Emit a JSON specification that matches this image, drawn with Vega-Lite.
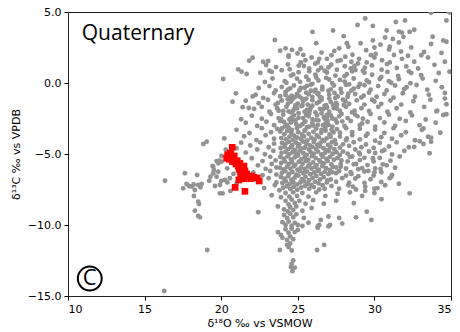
{
"$schema":"https://vega.github.io/schema/vega-lite/v6.json",
"width":383,"height":284,
"autosize":{"type":"none"},
"padding":{"left":68,"top":12,"right":9,"bottom":36},
"config":{"view":{"stroke":"#222","strokeWidth":1},
"axis":{"grid":false,"domain":false,"tickColor":"#000","tickSize":4,"labelFont":"DejaVu Sans","labelFontSize":11,"labelColor":"#000","titleFont":"DejaVu Sans","titleFontSize":11,"titleFontWeight":"normal","titleColor":"#000","labelPadding":3}},
"datasets":{
"gray":[
{"x":29.4,"y":4.55},{"x":33.7,"y":4.95},{"x":34.9,"y":4.98},
{"x":28.9,"y":4.08},{"x":29.9,"y":4.02},{"x":31.4,"y":4.3},{"x":32.0,"y":4.4},{"x":34.7,"y":4.4},
{"x":25.96,"y":3.6},{"x":27.3,"y":3.7},{"x":30.8,"y":3.7},{"x":31.6,"y":3.62},{"x":31.8,"y":3.55},{"x":32.3,"y":3.6},{"x":32.6,"y":3.75},
{"x":23.5,"y":3.03},{"x":28.0,"y":3.3},{"x":29.9,"y":3.0},{"x":30.7,"y":3.2},{"x":31.2,"y":3.1},{"x":33.8,"y":3.26},{"x":34.5,"y":3.0},{"x":31.9,"y":3.25},
{"x":26.2,"y":2.8},{"x":28.2,"y":2.8},{"x":28.3,"y":2.55},{"x":29.1,"y":2.8},{"x":27.7,"y":2.44},{"x":30.4,"y":2.7},{"x":31.0,"y":2.55},{"x":31.6,"y":2.85},{"x":32.4,"y":2.5},{"x":33.7,"y":2.75},{"x":34.7,"y":2.9},{"x":24.2,"y":2.44},{"x":30.0,"y":2.5},
{"x":23.85,"y":2.27},{"x":24.62,"y":2.33},{"x":24.98,"y":2.08},{"x":25.17,"y":2.38},{"x":25.36,"y":1.98},{"x":24.41,"y":1.94},{"x":26.55,"y":2.14},{"x":27.38,"y":2.26},{"x":28.57,"y":1.99},{"x":29.46,"y":2.31},{"x":30.08,"y":2.05},{"x":30.96,"y":2.36},{"x":31.28,"y":1.97},{"x":31.74,"y":2.22},{"x":32.19,"y":1.92},{"x":33.24,"y":2.18},{"x":33.06,"y":1.95},{"x":34.38,"y":2.12},{"x":29.77,"y":1.96},
{"x":22.05,"y":1.78},{"x":21.83,"y":1.57},{"x":22.74,"y":1.5},{"x":23.07,"y":1.55},{"x":24.4,"y":1.85},{"x":25.5,"y":1.6},{"x":25.9,"y":1.8},{"x":26.3,"y":1.45},{"x":26.9,"y":1.7},{"x":27.6,"y":1.55},{"x":28.1,"y":1.85},{"x":28.5,"y":1.5},{"x":29.0,"y":1.7},{"x":29.5,"y":1.45},{"x":30.0,"y":1.8},{"x":30.5,"y":1.6},{"x":31.0,"y":1.45},{"x":31.8,"y":1.7},{"x":32.6,"y":1.5},{"x":33.5,"y":1.8},{"x":34.6,"y":1.5},{"x":27.2,"y":1.95},{"x":25.2,"y":1.45},
{"x":22.93,"y":1.27},{"x":23.58,"y":1.12},{"x":24.36,"y":1.31},{"x":24.47,"y":0.97},{"x":25.06,"y":1.22},{"x":25.74,"y":1.02},{"x":26.14,"y":1.36},{"x":26.52,"y":1.08},{"x":27.18,"y":1.29},{"x":27.55,"y":0.93},{"x":28.07,"y":1.18},{"x":28.46,"y":1.03},{"x":28.93,"y":1.37},{"x":29.38,"y":1.07},{"x":29.84,"y":1.24},{"x":30.47,"y":0.94},{"x":30.82,"y":1.33},{"x":31.46,"y":1.06},{"x":32.08,"y":1.17},{"x":32.85,"y":1.02},{"x":33.92,"y":1.28},{"x":21.11,"y":0.96},{"x":28.76,"y":0.91},{"x":26.33,"y":0.89},
{"x":21.33,"y":0.8},{"x":21.66,"y":0.63},{"x":22.55,"y":0.72},{"x":23.15,"y":0.86},{"x":23.3,"y":0.78},{"x":23.95,"y":0.9},{"x":24.55,"y":0.52},{"x":24.7,"y":0.6},{"x":25.05,"y":0.76},{"x":25.55,"y":0.44},{"x":25.75,"y":0.82},{"x":26.15,"y":0.58},{"x":26.75,"y":0.86},{"x":26.9,"y":0.74},{"x":27.45,"y":0.52},{"x":28.05,"y":0.48},{"x":28.2,"y":0.62},{"x":28.55,"y":0.82},{"x":29.25,"y":0.86},{"x":29.35,"y":0.72},{"x":29.85,"y":0.58},{"x":30.45,"y":0.42},{"x":30.85,"y":0.78},{"x":31.55,"y":0.5},{"x":32.25,"y":0.82},{"x":32.4,"y":0.7},{"x":33.05,"y":0.55},{"x":34.2,"y":0.7},
{"x":20.13,"y":0.28},{"x":22.85,"y":0.07},{"x":23.35,"y":0.32},{"x":24.15,"y":0.13},{"x":24.25,"y":0.02},{"x":24.95,"y":0.31},{"x":25.15,"y":0.08},{"x":25.7,"y":0.22},{"x":25.95,"y":-0.06},{"x":26.35,"y":0.18},{"x":26.85,"y":0.36},{"x":27.05,"y":0.25},{"x":27.25,"y":-0.02},{"x":27.75,"y":0.22},{"x":28.05,"y":0.1},{"x":28.65,"y":0.32},{"x":29.05,"y":-0.07},{"x":29.5,"y":0.18},{"x":29.65,"y":0.05},{"x":30.35,"y":0.28},{"x":30.95,"y":0.12},{"x":31.1,"y":0.02},{"x":31.6,"y":0.27},{"x":32.35,"y":-0.02},{"x":33.15,"y":0.31},{"x":34.0,"y":0.15},{"x":26.2,"y":0.38},{"x":28.35,"y":-0.1},
{"x":23.15,"y":-0.22},{"x":23.55,"y":-0.52},{"x":23.95,"y":-0.28},{"x":24.35,"y":-0.47},{"x":24.5,"y":-0.38},{"x":24.75,"y":-0.18},{"x":25.1,"y":-0.52},{"x":25.45,"y":-0.33},{"x":25.6,"y":-0.2},{"x":25.85,"y":-0.12},{"x":26.15,"y":-0.48},{"x":26.6,"y":-0.26},{"x":27.0,"y":-0.55},{"x":27.15,"y":-0.45},{"x":27.35,"y":-0.18},{"x":27.8,"y":-0.42},{"x":28.15,"y":-0.12},{"x":28.5,"y":-0.53},{"x":28.65,"y":-0.4},{"x":28.95,"y":-0.28},{"x":29.35,"y":-0.16},{"x":29.75,"y":-0.47},{"x":30.25,"y":-0.22},{"x":30.8,"y":-0.52},{"x":31.35,"y":-0.18},{"x":31.95,"y":-0.42},{"x":32.1,"y":-0.3},{"x":32.75,"y":-0.14},{"x":33.45,"y":-0.47},{"x":34.4,"y":-0.3},{"x":22.45,"y":-0.35},
{"x":20.96,"y":-0.73},{"x":22.05,"y":-0.95},{"x":22.25,"y":-0.83},{"x":22.74,"y":-1.05},{"x":23.45,"y":-0.72},{"x":23.85,"y":-0.93},{"x":24.2,"y":-0.63},{"x":24.45,"y":-1.02},{"x":24.6,"y":-0.9},{"x":24.95,"y":-0.77},{"x":25.25,"y":-1.08},{"x":25.55,"y":-0.68},{"x":25.7,"y":-0.8},{"x":25.95,"y":-0.98},{"x":26.35,"y":-0.71},{"x":26.55,"y":-1.04},{"x":27.05,"y":-0.82},{"x":27.45,"y":-1.06},{"x":27.6,"y":-0.95},{"x":27.85,"y":-0.68},{"x":28.25,"y":-0.97},{"x":28.75,"y":-0.77},{"x":29.15,"y":-1.02},{"x":29.3,"y":-0.9},{"x":29.65,"y":-0.68},{"x":30.15,"y":-0.97},{"x":30.65,"y":-0.78},{"x":31.25,"y":-1.03},{"x":31.85,"y":-0.72},{"x":32.65,"y":-0.97},{"x":33.55,"y":-0.82},{"x":34.6,"y":-0.7},
{"x":20.74,"y":-1.32},{"x":21.4,"y":-1.7},{"x":21.6,"y":-1.25},{"x":22.45,"y":-1.42},{"x":23.05,"y":-1.18},{"x":23.55,"y":-1.52},{"x":23.7,"y":-1.4},{"x":23.95,"y":-1.23},{"x":24.35,"y":-1.47},{"x":24.65,"y":-1.13},{"x":24.85,"y":-1.57},{"x":25.0,"y":-1.45},{"x":25.35,"y":-1.28},{"x":25.65,"y":-1.52},{"x":25.95,"y":-1.22},{"x":26.25,"y":-1.43},{"x":26.4,"y":-1.32},{"x":26.55,"y":-1.18},{"x":26.85,"y":-1.57},{"x":27.15,"y":-1.33},{"x":27.55,"y":-1.52},{"x":27.95,"y":-1.18},{"x":28.1,"y":-1.28},{"x":28.35,"y":-1.47},{"x":28.85,"y":-1.22},{"x":29.35,"y":-1.52},{"x":29.85,"y":-1.18},{"x":30.0,"y":-1.3},{"x":30.45,"y":-1.47},{"x":31.05,"y":-1.23},{"x":31.75,"y":-1.52},{"x":32.55,"y":-1.28},{"x":33.65,"y":-1.18},{"x":34.7,"y":-1.5},
{"x":21.8,"y":-1.76},{"x":22.15,"y":-1.82},{"x":22.65,"y":-1.68},{"x":23.15,"y":-2.02},{"x":23.65,"y":-1.77},{"x":24.05,"y":-1.97},{"x":24.25,"y":-1.68},{"x":24.55,"y":-2.07},{"x":24.7,"y":-1.95},{"x":24.95,"y":-1.78},{"x":25.25,"y":-1.63},{"x":25.45,"y":-2.02},{"x":25.6,"y":-1.9},{"x":25.85,"y":-1.73},{"x":26.15,"y":-2.07},{"x":26.45,"y":-1.82},{"x":26.75,"y":-1.62},{"x":26.9,"y":-1.75},{"x":27.05,"y":-2.02},{"x":27.35,"y":-1.77},{"x":27.75,"y":-1.97},{"x":28.15,"y":-1.68},{"x":28.55,"y":-2.07},{"x":28.7,"y":-1.95},{"x":29.15,"y":-1.78},{"x":29.65,"y":-1.97},{"x":30.25,"y":-1.68},{"x":30.85,"y":-2.02},{"x":31.45,"y":-1.78},{"x":32.35,"y":-2.07},{"x":33.25,"y":-1.68},{"x":34.1,"y":-1.95},
{"x":22.0,"y":-2.3},{"x":22.65,"y":-2.52},{"x":23.25,"y":-2.18},{"x":23.75,"y":-2.47},{"x":24.05,"y":-2.23},{"x":24.45,"y":-2.57},{"x":24.6,"y":-2.45},{"x":24.75,"y":-2.28},{"x":25.05,"y":-2.13},{"x":25.35,"y":-2.47},{"x":25.55,"y":-2.23},{"x":25.7,"y":-2.35},{"x":25.95,"y":-2.57},{"x":26.25,"y":-2.28},{"x":26.55,"y":-2.13},{"x":26.75,"y":-2.52},{"x":26.9,"y":-2.4},{"x":27.15,"y":-2.28},{"x":27.45,"y":-2.57},{"x":27.85,"y":-2.18},{"x":28.25,"y":-2.47},{"x":28.75,"y":-2.23},{"x":28.9,"y":-2.35},{"x":29.25,"y":-2.52},{"x":29.75,"y":-2.18},{"x":30.35,"y":-2.47},{"x":30.95,"y":-2.23},{"x":31.65,"y":-2.52},{"x":32.45,"y":-2.28},{"x":33.35,"y":-2.57},{"x":34.5,"y":-2.25},{"x":21.3,"y":-2.55},
{"x":21.6,"y":-2.8},{"x":22.35,"y":-3.02},{"x":22.95,"y":-2.73},{"x":23.45,"y":-2.97},{"x":23.85,"y":-2.68},{"x":24.15,"y":-3.07},{"x":24.3,"y":-2.95},{"x":24.55,"y":-2.78},{"x":24.85,"y":-2.63},{"x":25.15,"y":-3.02},{"x":25.3,"y":-2.9},{"x":25.45,"y":-2.73},{"x":25.75,"y":-3.07},{"x":25.95,"y":-2.82},{"x":26.35,"y":-2.63},{"x":26.65,"y":-2.97},{"x":26.8,"y":-2.85},{"x":26.95,"y":-2.68},{"x":27.25,"y":-3.07},{"x":27.55,"y":-2.78},{"x":28.05,"y":-3.02},{"x":28.45,"y":-2.68},{"x":29.05,"y":-2.97},{"x":29.2,"y":-2.85},{"x":29.55,"y":-2.73},{"x":30.05,"y":-3.07},{"x":30.65,"y":-2.78},{"x":31.35,"y":-3.02},{"x":32.05,"y":-2.68},{"x":32.95,"y":-2.97},{"x":34.0,"y":-2.8},
{"x":21.0,"y":-3.3},{"x":21.85,"y":-3.52},{"x":22.65,"y":-3.18},{"x":23.25,"y":-3.47},{"x":23.65,"y":-3.23},{"x":23.95,"y":-3.2},{"x":24.4,"y":-3.15},{"x":24.95,"y":-3.18},{"x":25.6,"y":-3.12},{"x":26.2,"y":-3.2},{"x":26.8,"y":-3.15},{"x":27.55,"y":-3.25},{"x":27.75,"y":-3.5},{"x":28.15,"y":-3.18},{"x":28.55,"y":-3.47},{"x":29.05,"y":-3.23},{"x":29.55,"y":-3.57},{"x":30.05,"y":-3.28},{"x":30.65,"y":-3.52},{"x":31.25,"y":-3.18},{"x":32.05,"y":-3.47},{"x":33.1,"y":-3.3},{"x":34.3,"y":-3.5},
{"x":21.5,"y":-3.75},{"x":22.3,"y":-4.02},{"x":22.9,"y":-3.68},{"x":23.45,"y":-3.93},{"x":27.75,"y":-3.77},{"x":28.15,"y":-4.03},{"x":28.55,"y":-3.68},{"x":29.05,"y":-3.97},{"x":29.45,"y":-3.72},{"x":30.05,"y":-4.07},{"x":30.45,"y":-3.82},{"x":31.15,"y":-3.93},{"x":31.75,"y":-3.68},{"x":32.65,"y":-4.03},{"x":33.7,"y":-3.85},
{"x":21.9,"y":-4.4},{"x":22.55,"y":-4.18},{"x":23.1,"y":-4.52},{"x":23.45,"y":-4.27},{"x":27.75,"y":-4.55},{"x":27.95,"y":-4.32},{"x":28.35,"y":-4.43},{"x":28.65,"y":-4.17},{"x":29.15,"y":-4.52},{"x":29.45,"y":-4.33},{"x":29.95,"y":-4.57},{"x":30.35,"y":-4.22},{"x":30.95,"y":-4.47},{"x":31.45,"y":-4.18},{"x":32.25,"y":-4.52},{"x":33.2,"y":-4.3},
{"x":21.6,"y":-4.9},{"x":22.35,"y":-4.68},{"x":22.85,"y":-5.02},{"x":23.4,"y":-4.77},{"x":27.75,"y":-5.07},{"x":27.95,"y":-4.82},{"x":28.25,"y":-4.97},{"x":28.75,"y":-4.68},{"x":29.05,"y":-5.02},{"x":29.65,"y":-4.82},{"x":30.05,"y":-4.93},{"x":30.65,"y":-4.72},{"x":31.15,"y":-5.03},{"x":31.95,"y":-4.78},
{"x":22.0,"y":-5.3},{"x":22.7,"y":-5.5},{"x":23.2,"y":-5.2},{"x":23.55,"y":-5.45},{"x":27.6,"y":-5.28},{"x":27.85,"y":-5.45},{"x":28.25,"y":-5.52},{"x":28.55,"y":-5.18},{"x":29.05,"y":-5.43},{"x":29.35,"y":-5.27},{"x":29.95,"y":-5.52},{"x":30.35,"y":-5.28},{"x":31.05,"y":-5.47},{"x":31.65,"y":-5.18},
{"x":22.4,"y":-5.8},{"x":22.9,"y":-6.05},{"x":23.3,"y":-5.7},{"x":23.6,"y":-5.95},{"x":27.5,"y":-5.95},{"x":27.8,"y":-5.7},{"x":28.15,"y":-6.02},{"x":28.65,"y":-5.73},{"x":28.95,"y":-6.07},{"x":29.55,"y":-5.78},{"x":30.05,"y":-6.02},{"x":30.55,"y":-5.73},{"x":31.35,"y":-5.97},
{"x":22.1,"y":-6.3},{"x":22.7,"y":-6.5},{"x":23.2,"y":-6.2},{"x":23.6,"y":-6.45},{"x":27.5,"y":-6.35},{"x":27.7,"y":-6.2},{"x":28.15,"y":-6.52},{"x":28.45,"y":-6.28},{"x":28.95,"y":-6.57},{"x":29.35,"y":-6.23},{"x":29.95,"y":-6.52},{"x":30.45,"y":-6.28},{"x":31.15,"y":-6.47},
{"x":22.5,"y":-6.9},{"x":23.1,"y":-6.7},{"x":23.6,"y":-7.0},{"x":27.15,"y":-6.8},{"x":27.5,"y":-6.95},{"x":27.9,"y":-6.7},{"x":28.35,"y":-7.02},{"x":28.75,"y":-6.73},{"x":29.35,"y":-7.03},{"x":29.75,"y":-6.78},{"x":30.45,"y":-6.97},{"x":31.0,"y":-6.7},
{"x":22.8,"y":-7.4},{"x":23.5,"y":-7.2},{"x":23.8,"y":-7.55},{"x":26.75,"y":-7.45},{"x":27.2,"y":-7.25},{"x":27.7,"y":-7.45},{"x":28.3,"y":-7.2},{"x":28.8,"y":-7.5},{"x":29.4,"y":-7.3},{"x":30.0,"y":-7.45},{"x":30.7,"y":-7.2},
{"x":23.85,"y":-3.42},{"x":24.12,"y":-3.61},{"x":24.31,"y":-3.38},{"x":24.58,"y":-3.52},{"x":24.77,"y":-3.71},{"x":25.03,"y":-3.46},{"x":25.29,"y":-3.63},{"x":25.47,"y":-3.35},{"x":25.71,"y":-3.58},{"x":26.02,"y":-3.44},{"x":26.24,"y":-3.69},{"x":26.53,"y":-3.51},{"x":26.81,"y":-3.37},{"x":27.07,"y":-3.62},{"x":27.33,"y":-3.48},
{"x":23.92,"y":-3.88},{"x":24.21,"y":-3.97},{"x":24.46,"y":-3.79},{"x":24.69,"y":-4.02},{"x":24.93,"y":-3.84},{"x":25.18,"y":-3.93},{"x":25.41,"y":-3.76},{"x":25.62,"y":-4.04},{"x":25.88,"y":-3.86},{"x":26.09,"y":-3.98},{"x":26.37,"y":-3.81},{"x":26.61,"y":-4.01},{"x":26.88,"y":-3.9},{"x":27.14,"y":-3.78},{"x":27.41,"y":-4.03},
{"x":23.97,"y":-4.22},{"x":24.18,"y":-4.31},{"x":24.42,"y":-4.14},{"x":24.63,"y":-4.38},{"x":24.88,"y":-4.19},{"x":25.09,"y":-4.33},{"x":25.34,"y":-4.12},{"x":25.56,"y":-4.27},{"x":25.79,"y":-4.4},{"x":26.04,"y":-4.16},{"x":26.27,"y":-4.35},{"x":26.49,"y":-4.21},{"x":26.73,"y":-4.09},{"x":26.97,"y":-4.36},{"x":27.22,"y":-4.18},{"x":27.48,"y":-4.29},
{"x":23.88,"y":-4.58},{"x":24.13,"y":-4.49},{"x":24.37,"y":-4.66},{"x":24.57,"y":-4.52},{"x":24.81,"y":-4.71},{"x":25.02,"y":-4.47},{"x":25.26,"y":-4.62},{"x":25.48,"y":-4.54},{"x":25.73,"y":-4.69},{"x":25.95,"y":-4.5},{"x":26.19,"y":-4.64},{"x":26.43,"y":-4.46},{"x":26.68,"y":-4.6},{"x":26.91,"y":-4.73},{"x":27.13,"y":-4.51},{"x":27.39,"y":-4.67},
{"x":23.94,"y":-4.93},{"x":24.2,"y":-4.84},{"x":24.44,"y":-5.02},{"x":24.66,"y":-4.88},{"x":24.89,"y":-4.99},{"x":25.12,"y":-4.81},{"x":25.37,"y":-4.95},{"x":25.58,"y":-5.06},{"x":25.83,"y":-4.86},{"x":26.06,"y":-4.97},{"x":26.31,"y":-4.83},{"x":26.54,"y":-5.03},{"x":26.78,"y":-4.91},{"x":27.02,"y":-4.79},{"x":27.27,"y":-4.98},{"x":27.52,"y":-4.87},
{"x":23.86,"y":-5.21},{"x":24.09,"y":-5.33},{"x":24.33,"y":-5.17},{"x":24.55,"y":-5.38},{"x":24.79,"y":-5.24},{"x":25.01,"y":-5.11},{"x":25.24,"y":-5.36},{"x":25.46,"y":-5.22},{"x":25.69,"y":-5.4},{"x":25.92,"y":-5.15},{"x":26.16,"y":-5.29},{"x":26.39,"y":-5.43},{"x":26.63,"y":-5.19},{"x":26.87,"y":-5.34},{"x":27.1,"y":-5.2},{"x":27.36,"y":-5.41},
{"x":23.91,"y":-5.63},{"x":24.16,"y":-5.52},{"x":24.4,"y":-5.71},{"x":24.61,"y":-5.57},{"x":24.84,"y":-5.76},{"x":25.07,"y":-5.55},{"x":25.31,"y":-5.68},{"x":25.53,"y":-5.49},{"x":25.77,"y":-5.73},{"x":26.0,"y":-5.59},{"x":26.23,"y":-5.78},{"x":26.47,"y":-5.54},{"x":26.7,"y":-5.66},{"x":26.95,"y":-5.5},{"x":27.19,"y":-5.74},
{"x":23.84,"y":-5.97},{"x":24.07,"y":-6.08},{"x":24.29,"y":-5.9},{"x":24.52,"y":-6.04},{"x":24.74,"y":-5.86},{"x":24.98,"y":-6.11},{"x":25.21,"y":-5.94},{"x":25.44,"y":-6.06},{"x":25.67,"y":-5.88},{"x":25.9,"y":-6.02},{"x":26.14,"y":-5.92},{"x":26.38,"y":-6.1},{"x":26.6,"y":-5.85},{"x":26.84,"y":-6.0},{"x":27.08,"y":-6.13},{"x":27.3,"y":-5.91},
{"x":23.96,"y":-6.33},{"x":24.19,"y":-6.22},{"x":24.43,"y":-6.41},{"x":24.65,"y":-6.27},{"x":24.9,"y":-6.45},{"x":25.13,"y":-6.19},{"x":25.36,"y":-6.36},{"x":25.6,"y":-6.24},{"x":25.82,"y":-6.43},{"x":26.07,"y":-6.3},{"x":26.3,"y":-6.18},{"x":26.52,"y":-6.39},{"x":26.76,"y":-6.26},{"x":27.0,"y":-6.42},{"x":27.25,"y":-6.29},
{"x":23.89,"y":-6.62},{"x":24.12,"y":-6.74},{"x":24.36,"y":-6.57},{"x":24.58,"y":-6.81},{"x":24.8,"y":-6.65},{"x":25.04,"y":-6.52},{"x":25.27,"y":-6.77},{"x":25.5,"y":-6.6},{"x":25.73,"y":-6.84},{"x":25.97,"y":-6.68},{"x":26.21,"y":-6.55},{"x":26.45,"y":-6.79},{"x":26.69,"y":-6.63},{"x":26.93,"y":-6.86},
{"x":23.99,"y":-7.04},{"x":24.23,"y":-6.93},{"x":24.47,"y":-7.12},{"x":24.7,"y":-6.97},{"x":24.94,"y":-7.15},{"x":25.17,"y":-7.01},{"x":25.4,"y":-6.92},{"x":25.64,"y":-7.09},{"x":25.88,"y":-7.18},{"x":26.12,"y":-6.95},{"x":26.36,"y":-7.07},{"x":26.62,"y":-7.2},{"x":26.9,"y":-7.0},
{"x":24.05,"y":-7.38},{"x":24.28,"y":-7.27},{"x":24.51,"y":-7.46},{"x":24.73,"y":-7.31},{"x":24.97,"y":-7.52},{"x":25.22,"y":-7.36},{"x":25.48,"y":-7.25},{"x":25.75,"y":-7.44},{"x":26.05,"y":-7.33},{"x":26.4,"y":-7.5},
{"x":23.3,"y":-7.9},{"x":23.9,"y":-8.05},{"x":24.2,"y":-7.75},{"x":24.45,"y":-8.0},{"x":24.7,"y":-7.7},{"x":24.95,"y":-7.95},{"x":25.3,"y":-7.75},{"x":25.7,"y":-8.0},{"x":26.2,"y":-7.7},{"x":26.8,"y":-7.95},{"x":27.6,"y":-7.8},{"x":28.4,"y":-7.7},{"x":29.2,"y":-7.95},{"x":30.0,"y":-7.75},{"x":32.3,"y":-7.77},
{"x":23.7,"y":-8.7},{"x":24.2,"y":-8.3},{"x":24.4,"y":-8.55},{"x":24.6,"y":-8.2},{"x":24.8,"y":-8.45},{"x":25.1,"y":-8.3},{"x":25.5,"y":-8.5},{"x":26.0,"y":-8.25},{"x":26.7,"y":-8.5},{"x":27.5,"y":-8.3},{"x":28.66,"y":-8.47},{"x":30.46,"y":-8.19},
{"x":24.1,"y":-8.9},{"x":24.35,"y":-9.05},{"x":24.5,"y":-8.75},{"x":24.7,"y":-8.95},{"x":24.9,"y":-8.7},{"x":25.3,"y":-9.0},{"x":25.9,"y":-8.8},{"x":29.5,"y":-9.06},{"x":22.42,"y":-9.1},
{"x":24.1,"y":-9.3},{"x":24.3,"y":-9.5},{"x":24.5,"y":-9.2},{"x":24.7,"y":-9.45},{"x":24.9,"y":-9.25},{"x":25.4,"y":-9.5},{"x":26.5,"y":-9.65},{"x":27.0,"y":-9.4},{"x":27.7,"y":-9.5},{"x":28.8,"y":-9.46},{"x":29.8,"y":-9.65},
{"x":24.0,"y":-9.8},{"x":24.2,"y":-10.0},{"x":24.4,"y":-9.75},{"x":24.6,"y":-10.05},{"x":24.8,"y":-9.85},{"x":25.0,"y":-10.0},{"x":25.3,"y":-10.07},{"x":25.7,"y":-9.84},{"x":26.3,"y":-10.1},{"x":26.4,"y":-10.0},{"x":27.0,"y":-10.1},{"x":27.1,"y":-10.0},{"x":27.9,"y":-9.9},
{"x":23.7,"y":-10.5},{"x":23.9,"y":-10.7},{"x":24.2,"y":-10.3},{"x":24.4,"y":-10.55},{"x":24.6,"y":-10.25},{"x":24.8,"y":-10.5},{"x":25.0,"y":-10.35},{"x":26.3,"y":-10.2},
{"x":24.0,"y":-10.9},{"x":24.3,"y":-11.05},{"x":24.5,"y":-10.8},{"x":24.7,"y":-11.0},
{"x":24.3,"y":-11.4},{"x":24.5,"y":-11.3},{"x":26.72,"y":-11.4},{"x":24.4,"y":-11.55},
{"x":23.83,"y":-11.76},{"x":24.6,"y":-11.8},{"x":26.26,"y":-11.76},{"x":24.7,"y":-12.5},{"x":24.6,"y":-12.75},{"x":24.55,"y":-12.95},{"x":24.8,"y":-13.0},{"x":24.65,"y":-13.25},
{"x":16.28,"y":-14.65},{"x":19.09,"y":-11.76},{"x":16.33,"y":-6.88},{"x":18.83,"y":-4.3},{"x":19.05,"y":-4.13},
{"x":17.63,"y":-6.36},{"x":18.43,"y":-6.48},{"x":17.74,"y":-7.11},{"x":17.52,"y":-7.42},{"x":18.07,"y":-7.3},{"x":18.28,"y":-7.54},{"x":18.22,"y":-7.96},{"x":18.5,"y":-7.18},{"x":18.72,"y":-7.11},{"x":18.5,"y":-8.36},{"x":18.55,"y":-8.52},{"x":18.28,"y":-8.99},{"x":18.5,"y":-9.37},{"x":18.61,"y":-9.46},{"x":19.22,"y":-6.88},{"x":19.48,"y":-6.36},{"x":19.7,"y":-6.6},{"x":19.92,"y":-7.18},{"x":19.59,"y":-7.25},{"x":19.92,"y":-7.77},{"x":20.09,"y":-7.77},{"x":20.24,"y":-6.83},{"x":20.57,"y":-6.71},{"x":19.48,"y":-5.89},{"x":19.81,"y":-6.25},{"x":19.81,"y":-5.66},{"x":20.02,"y":-5.54},{"x":20.39,"y":-6.01},{"x":20.02,"y":-5.14},{"x":19.87,"y":-5.47},{"x":19.44,"y":-5.85},{"x":19.52,"y":-6.13},{"x":17.9,"y":-7.25},{"x":18.2,"y":-7.15},{"x":18.65,"y":-7.35},{"x":20.4,"y":-7.0},{"x":19.7,"y":-5.5},{"x":20.3,"y":-4.7},{"x":20.2,"y":-3.9},{"x":20.0,"y":-6.9},{"x":19.3,"y":-6.6},{"x":20.8,"y":-6.4},{"x":21.0,"y":-7.1},{"x":20.6,"y":-7.6},{"x":21.3,"y":-4.2},{"x":21.0,"y":-4.6},
{"x":28.4,"y":-5.2},{"x":28.8,"y":-5.7},{"x":29.2,"y":-6.0},{"x":29.6,"y":-6.2},{"x":30.0,"y":-6.3},{"x":30.4,"y":-6.05},{"x":30.8,"y":-5.8},{"x":29.0,"y":-4.9},{"x":28.2,"y":-3.9},{"x":27.8,"y":-5.9},{"x":28.5,"y":-6.4},{"x":29.9,"y":-5.3},{"x":30.5,"y":-4.8},{"x":31.1,"y":-6.6},{"x":31.6,"y":-7.1},{"x":30.2,"y":-7.4},{"x":29.4,"y":-7.6},{"x":28.6,"y":-7.3},
{"x":24.8,"y":-1.0},{"x":25.8,"y":-1.9},{"x":26.7,"y":-2.4},{"x":27.5,"y":-1.4},{"x":25.5,"y":-2.7},{"x":26.3,"y":-0.8},{"x":24.4,"y":-2.0},{"x":27.9,"y":-2.7},{"x":26.0,"y":-3.0},{"x":24.9,"y":-2.9},
{"x":24.2,"y":-0.85},{"x":24.55,"y":-1.3},{"x":24.8,"y":-1.75},{"x":25.1,"y":-0.95},{"x":25.3,"y":-1.55},{"x":25.55,"y":-1.1},{"x":25.75,"y":-2.15},{"x":25.95,"y":-1.6},{"x":26.1,"y":-0.6},{"x":26.2,"y":-2.6},{"x":26.45,"y":-1.0},{"x":26.65,"y":-1.85},{"x":26.9,"y":-2.25},{"x":27.05,"y":-1.1},{"x":27.25,"y":-2.5},{"x":27.4,"y":-0.7},{"x":27.55,"y":-1.8},{"x":27.7,"y":-2.35},{"x":28.0,"y":-1.55},{"x":28.3,"y":-0.75},{"x":24.1,"y":-2.75},{"x":24.35,"y":-1.15},{"x":24.65,"y":-2.65},{"x":25.05,"y":-2.45},{"x":25.2,"y":-0.35},{"x":25.85,"y":-0.55},{"x":26.3,"y":-2.95},{"x":26.6,"y":-0.45},{"x":27.0,"y":-2.95},{"x":27.3,"y":-1.55},{"x":23.75,"y":-1.95},{"x":23.9,"y":-2.55},{"x":25.45,"y":-3.35},{"x":26.55,"y":-3.3},{"x":27.2,"y":-3.3},{"x":24.6,"y":-3.3},
{"x":26.4,"y":1.7},{"x":27.0,"y":1.1},{"x":25.4,"y":1.2},{"x":27.8,"y":1.6},{"x":28.7,"y":1.2},
{"x":34.05,"y":-2.0},{"x":34.7,"y":-2.2},{"x":33.5,"y":-3.78},{"x":33.7,"y":-4.13},{"x":33.2,"y":-3.2},{"x":32.96,"y":-4.1},{"x":32.6,"y":-4.5},{"x":33.6,"y":-4.95},{"x":34.6,"y":-1.1},{"x":34.9,"y":0.8}
],
"red":[
{"x":20.72,"y":-4.53},{"x":20.42,"y":-5.07},{"x":20.63,"y":-5.0},{"x":20.85,"y":-5.14},{"x":20.52,"y":-5.37},{"x":20.79,"y":-5.37},{"x":21.05,"y":-5.47},{"x":20.96,"y":-5.7},{"x":21.22,"y":-5.66},{"x":21.33,"y":-5.94},{"x":21.48,"y":-5.85},{"x":21.17,"y":-6.08},{"x":21.55,"y":-6.18},{"x":21.4,"y":-6.32},{"x":21.66,"y":-6.41},{"x":21.76,"y":-6.6},{"x":21.92,"y":-6.74},{"x":22.13,"y":-6.64},{"x":22.35,"y":-6.69},{"x":22.48,"y":-6.9},{"x":21.15,"y":-6.83},{"x":21.48,"y":-6.74},{"x":20.91,"y":-7.35},{"x":21.55,"y":-7.63},{"x":20.35,"y":-5.3},{"x":20.74,"y":-5.54},{"x":21.11,"y":-5.85},{"x":21.26,"y":-6.25},{"x":21.61,"y":-6.6},{"x":21.98,"y":-6.55},{"x":20.57,"y":-4.95},{"x":21.28,"y":-6.48}
]},
"layer":[
{"data":{"name":"gray"},"mark":{"type":"circle","size":24,"color":"#929292","opacity":1,"clip":true},
"encoding":{"x":{"field":"x","type":"quantitative","scale":{"domain":[10,35],"nice":false,"zero":false},"axis":{"values":[10,15,20,25,30,35],"format":"d","title":"δ¹⁸O ‰ vs VSMOW","titlePadding":3}},
"y":{"field":"y","type":"quantitative","scale":{"domain":[-15,5],"nice":false,"zero":false},"axis":{"values":[-15,-12.5,-10,-7.5,-5,-2.5,0,2.5,5],"format":".1f","title":"δ¹³C ‰ vs VPDB","titlePadding":6}}}},
{"data":{"name":"red"},"mark":{"type":"square","size":45,"color":"#ff0000","opacity":1},
"encoding":{"x":{"field":"x","type":"quantitative"},"y":{"field":"y","type":"quantitative"}}},
{"data":{"values":[{"label":"Quaternary"}]},"mark":{"type":"text","align":"left","baseline":"alphabetic","fontSize":21,"font":"Open Sans","color":"#000"},
"encoding":{"x":{"datum":10.9},"y":{"datum":3.03},"text":{"field":"label"}}},
{"data":{"values":[{"label":"C"}]},"mark":{"type":"point","shape":"circle","size":570,"filled":false,"stroke":"#000","strokeWidth":2,"opacity":1},
"encoding":{"x":{"datum":11.42},"y":{"datum":-13.77}}},
{"data":{"values":[{"label":"C"}]},"mark":{"type":"text","align":"center","baseline":"middle","fontSize":22,"font":"Open Sans","color":"#000"},
"encoding":{"x":{"datum":11.42},"y":{"datum":-13.72},"text":{"field":"label"}}}
]
}
